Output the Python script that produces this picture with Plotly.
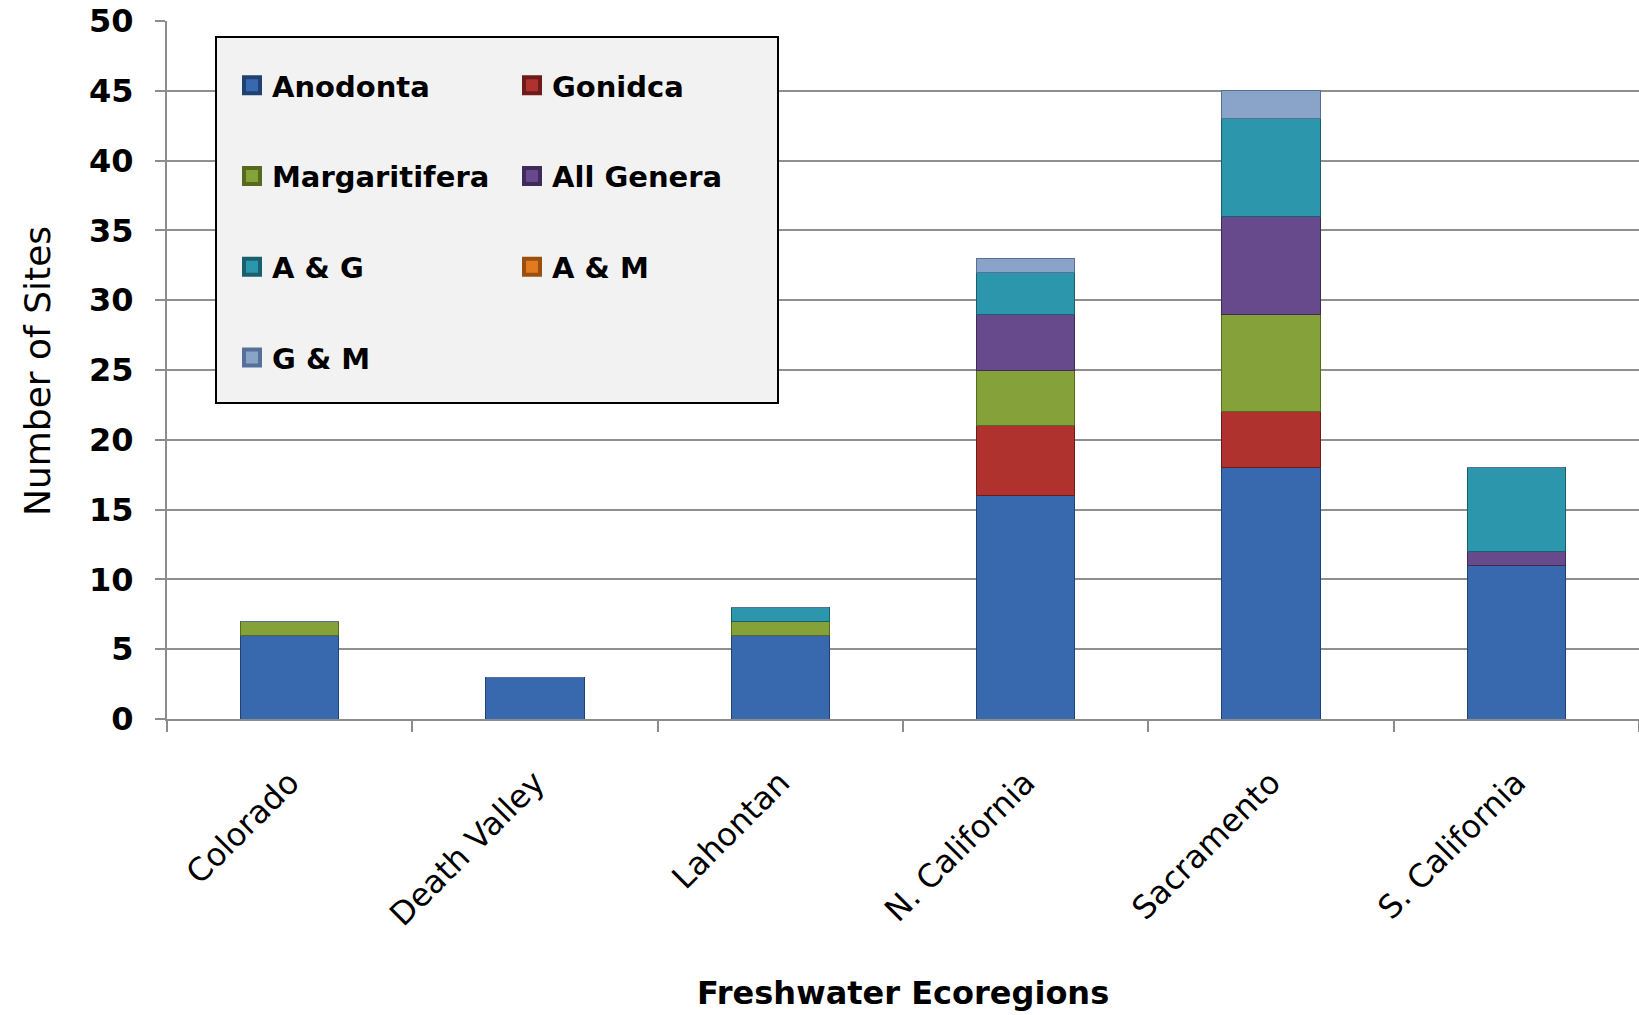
import plotly.graph_objects as go

regions = ["Colorado", "Death Valley", "Lahontan", "N. California", "Sacramento", "S. California"]
anodonta      = [6, 3, 6, 16, 18, 11]
gonidca       = [0, 0, 0, 5, 4, 0]
margaritifera = [1, 0, 1, 4, 7, 0]
all_genera    = [0, 0, 0, 4, 7, 1]
a_and_g       = [0, 0, 1, 3, 7, 6]
a_and_m       = [0, 0, 0, 0, 0, 0]
g_and_m       = [0, 0, 0, 1, 2, 0]

series = [
    ("Anodonta", anodonta, "#3868ad", "#1f4273", "legend"),
    ("Gonidca", gonidca, "#b0322f", "#6e1c1a", "legend2"),
    ("Margaritifera", margaritifera, "#84a13a", "#55691f", "legend"),
    ("All Genera", all_genera, "#674a8c", "#3f2b59", "legend2"),
    ("A & G", a_and_g, "#2c96ad", "#1a5f6e", "legend"),
    ("A & M", a_and_m, "#e07b22", "#9a4f0f", "legend2"),
    ("G & M", g_and_m, "#8aa3c9", "#56709a", "legend"),
]

FONT = "DejaVu Sans"
fig = go.Figure()
for i, (name, vals, col, dark, leg) in enumerate(series):
    fig.add_trace(go.Bar(
        x=regions, y=vals, name=name, marker=dict(color=col, line=dict(color=dark, width=1)),
        showlegend=False,
    ))
for i, (name, vals, col, dark, leg) in enumerate(series):
    fig.add_trace(go.Scatter(
        x=[None], y=[None], mode="markers", name=name, legend=leg, legendgroup=name,
        marker=dict(symbol="square", size=16, color=col, line=dict(color=dark, width=4)),
        showlegend=True, hoverinfo="skip",
    ))

W, H = 1639, 1015
L, R, T, B = 167, 0, 21, 296
pw = W - L - R
ph = H - T - B

def px(xp):
    return (xp - L) / pw

def py(yp):
    return 1 - (yp - T) / ph

legend_common = dict(
    bgcolor="rgba(0,0,0,0)", borderwidth=0, orientation="v",
    font=dict(family=FONT, size=29, color="black", weight="bold"),
    xanchor="left", yanchor="top", tracegroupgap=50, traceorder="grouped",
    itemsizing="trace",
)

fig.update_layout(
    width=W, height=H,
    margin=dict(l=L, r=R, t=T, b=B),
    paper_bgcolor="white", plot_bgcolor="white",
    barmode="stack", bargap=0.6,
    font=dict(family=FONT, color="black"),
    legend=dict(**legend_common, x=px(232), y=py(60)),
    legend2=dict(**legend_common, x=px(512), y=py(60)),
    xaxis=dict(
        type="category", showgrid=False, showline=True, linecolor="#8c8c8c", linewidth=2,
        ticks="outside", tickson="boundaries", ticklen=11, tickwidth=2, tickcolor="#8c8c8c",
        tickangle=-45, tickfont=dict(family=FONT, size=32, color="black"),
        ticklabelstandoff=30, zeroline=False,
    ),
    yaxis=dict(
        range=[0, 50], dtick=5, showgrid=True, gridcolor="#8f8f8f", gridwidth=2,
        showline=True, linecolor="#8c8c8c", linewidth=2, zeroline=False,
        ticks="outside", ticklen=10, tickwidth=2, tickcolor="#8c8c8c",
        tickfont=dict(family=FONT, size=32, color="black", weight="bold"),
        ticklabelstandoff=15,
    ),
    shapes=[dict(
        type="rect", xref="paper", yref="paper",
        x0=px(216), x1=px(778), y0=py(403), y1=py(37),
        fillcolor="#f2f2f2", line=dict(color="black", width=2), layer="above",
    )],
    annotations=[
        dict(text="Number of Sites", xref="paper", yref="paper", x=px(37), y=py(371),
             textangle=-90, showarrow=False, font=dict(family=FONT, size=36, color="black"),
             xanchor="center", yanchor="middle"),
        dict(text="Freshwater Ecoregions", xref="paper", yref="paper", x=0.5, y=py(993),
             showarrow=False, font=dict(family=FONT, size=32, color="black", weight="bold"),
             xanchor="center", yanchor="middle"),
    ],
)

fig.write_html("out.html")
